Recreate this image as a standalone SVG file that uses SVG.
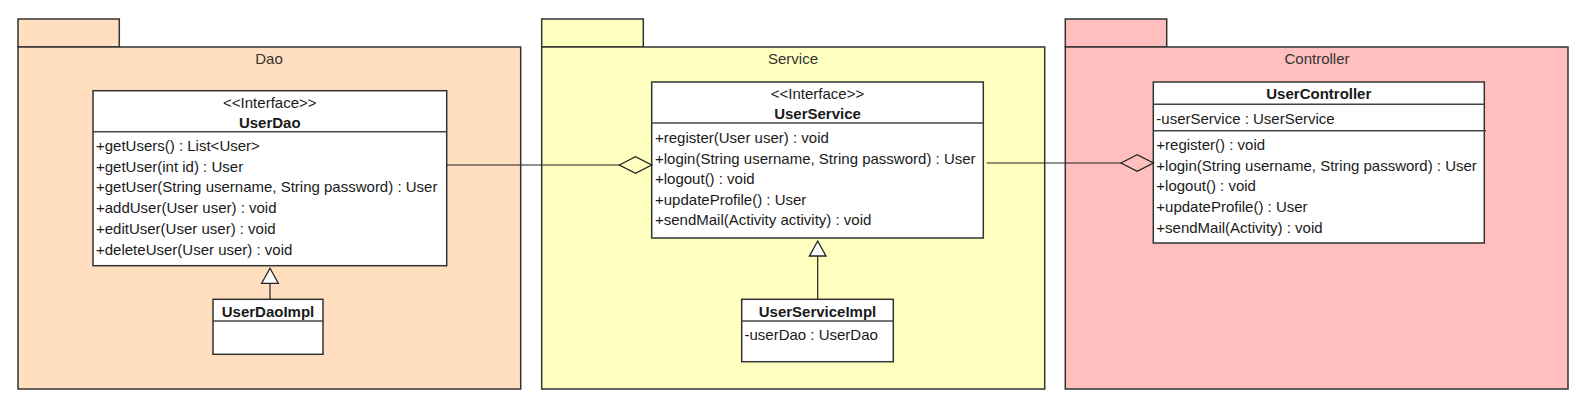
<svg xmlns="http://www.w3.org/2000/svg" width="1591" height="410" viewBox="0 0 1591 410">
<defs>
<style>
.pkg{stroke:#333;stroke-width:1.5}
.dao{fill:#FFDFC0}
.svc{fill:#FFFFC0}
.ctl{fill:#FFBFBF}
.box{fill:#fff;stroke:#333;stroke-width:1.5}
.div{stroke:#444;stroke-width:1.5}
text{font-family:"Liberation Sans",Arial,sans-serif;font-size:15px;fill:#1a1a1a}
.plabel{fill:#333;text-anchor:middle}
.c{text-anchor:middle}
.b{font-weight:bold;text-anchor:middle}
.conn{fill:none;stroke:#222;stroke-width:1.2}
</style>
<marker id="diamond" markerUnits="userSpaceOnUse" markerWidth="34" markerHeight="18" refX="0" refY="0" orient="auto" overflow="visible">
<path d="M0,0 L16.2,-8.3 L32.4,0 L16.2,8.3 Z" fill="none" stroke="#222" stroke-width="1.3"/>
</marker>
<marker id="tri" markerUnits="userSpaceOnUse" markerWidth="16" markerHeight="18" refX="0" refY="0" orient="auto" overflow="visible">
<path d="M0,-8.3 L15,0 L0,8.3 Z" fill="#fff" stroke="#222" stroke-width="1.3"/>
</marker>
</defs>

<g id="pkg-dao">
<rect class="pkg dao" x="18" y="19" width="101.3" height="28"/>
<rect class="pkg dao" x="18" y="47" width="502.7" height="342"/>
<text class="plabel" x="269" y="64">Dao</text>
</g>
<g id="pkg-service">
<rect class="pkg svc" x="541.7" y="19" width="101.6" height="28"/>
<rect class="pkg svc" x="541.7" y="47" width="503" height="342"/>
<text class="plabel" x="793" y="64">Service</text>
</g>
<g id="pkg-controller">
<rect class="pkg ctl" x="1065.3" y="19" width="101.4" height="28"/>
<rect class="pkg ctl" x="1065.3" y="47" width="502.7" height="342"/>
<text class="plabel" x="1317" y="64">Controller</text>
</g>

<g id="UserDao">
<rect class="box" x="93" y="90.7" width="353.7" height="175"/>
<line class="div" x1="93" y1="131.7" x2="446.7" y2="131.7"/>
<text class="c" x="269.8" y="107.5">&lt;&lt;Interface&gt;&gt;</text>
<text class="b" x="269.8" y="127.5">UserDao</text>
<text x="96" y="151">+getUsers() : List&lt;User&gt;</text>
<text x="96" y="171.7">+getUser(int id) : User</text>
<text x="96" y="192.3">+getUser(String username, String password) : User</text>
<text x="96" y="213">+addUser(User user) : void</text>
<text x="96" y="233.7">+editUser(User user) : void</text>
<text x="96" y="254.5">+deleteUser(User user) : void</text>
</g>

<g id="UserDaoImpl">
<rect class="box" x="213" y="299.3" width="110" height="55"/>
<line class="div" x1="213" y1="321" x2="323" y2="321"/>
<text class="b" x="268" y="316.5">UserDaoImpl</text>
</g>

<g id="UserService">
<rect class="box" x="651.7" y="82" width="331.6" height="156"/>
<line class="div" x1="651.7" y1="123" x2="983.3" y2="123"/>
<text class="c" x="817.5" y="99">&lt;&lt;Interface&gt;&gt;</text>
<text class="b" x="817.5" y="119">UserService</text>
<text x="655" y="142.7">+register(User user) : void</text>
<text x="655" y="163.5">+login(String username, String password) : User</text>
<text x="655" y="184">+logout() : void</text>
<text x="655" y="205">+updateProfile() : User</text>
<text x="655" y="225">+sendMail(Activity activity) : void</text>
</g>

<g id="UserServiceImpl">
<rect class="box" x="741.7" y="299.3" width="151.6" height="62.4"/>
<line class="div" x1="741.7" y1="321" x2="893.3" y2="321"/>
<text class="b" x="817.5" y="316.5">UserServiceImpl</text>
<text x="744.5" y="340">-userDao : UserDao</text>
</g>

<g id="UserController">
<rect class="box" x="1153.3" y="82" width="331" height="161"/>
<line class="div" x1="1153.3" y1="104.3" x2="1484.3" y2="104.3"/>
<line class="div" x1="1153.3" y1="130.7" x2="1486" y2="130.7"/>
<text class="b" x="1318.8" y="98.5">UserController</text>
<text x="1156.3" y="123.5">-userService : UserService</text>
<text x="1156.3" y="150">+register() : void</text>
<text x="1156.3" y="171">+login(String username, String password) : User</text>
<text x="1156.3" y="191">+logout() : void</text>
<text x="1156.3" y="212">+updateProfile() : User</text>
<text x="1156.3" y="232.5">+sendMail(Activity) : void</text>
</g>

<g id="connectors">
<path class="conn" d="M446.7,165 L619.3,165" marker-end="url(#diamond)"/>
<path class="conn" d="M986.7,163 L1121,163" marker-end="url(#diamond)"/>
<path class="conn" d="M270,299.3 L270,283.3" marker-end="url(#tri)"/>
<path class="conn" d="M817.7,299.3 L817.7,256" marker-end="url(#tri)"/>
</g>
</svg>
